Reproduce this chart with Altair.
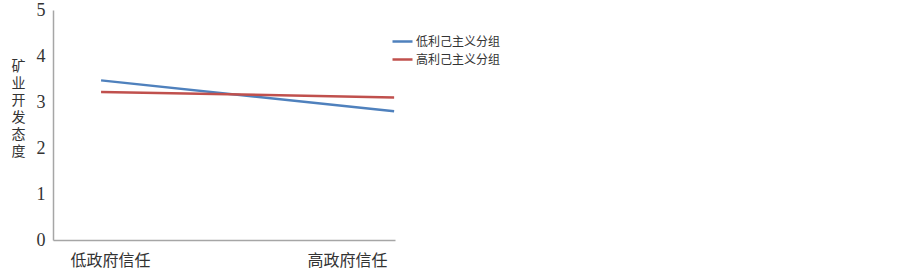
import altair as alt
import pandas as pd

# Mean attitude toward mining development by government trust level
trust_levels = ["低政府信任", "高政府信任"]
trust_pos = [1, 2]
groups = ["低利己主义分组", "高利己主义分组"]
low_egoism = [3.47, 2.80]
high_egoism = [3.22, 3.10]
y_ticks = [0, 1, 2, 3, 4, 5]

rows = []
for g, vals in zip(groups, [low_egoism, high_egoism]):
    for lvl, pos, v in zip(trust_levels, trust_pos, vals):
        rows.append({"group": g, "trust": lvl, "pos": pos, "value": v})
df = pd.DataFrame(rows)

label_expr = "datum.value == 1 ? '%s' : '%s'" % (trust_levels[0], trust_levels[1])

chart = (
    alt.Chart(df)
    .mark_line(strokeWidth=2.5)
    .encode(
        x=alt.X(
            "pos:Q",
            scale=alt.Scale(domain=[0.836, 2.003], nice=False, zero=False),
            axis=alt.Axis(
                values=trust_pos,
                labelExpr=label_expr,
                title=None,
                ticks=False,
                grid=False,
                domainColor="#a6a6a6",
                domainWidth=1.5,
                labelFont="Noto Sans CJK SC",
                labelFontSize=16,
                labelColor="#333333",
                labelPadding=12,
                labelFlush=False,
                labelOffset={"expr": "datum.value == 1 ? 9 : -47"},
            ),
        ),
        y=alt.Y(
            "value:Q",
            scale=alt.Scale(domain=[0, 5], nice=False),
            axis=alt.Axis(
                values=y_ticks,
                format="d",
                title=list("矿业开发态度"),
                titleAngle=0,
                titleFont="Noto Sans CJK SC",
                titleFontSize=14,
                titleFontWeight="normal",
                titleColor="#333333",
                titleLineHeight=17,
                titleX=-35,
                titleY=49,
                titleAlign="center",
                titleBaseline="top",
                ticks=False,
                grid=False,
                domainColor="#a6a6a6",
                domainWidth=1.5,
                labelFont="Liberation Serif",
                labelFontSize=18,
                labelColor="#333333",
                labelPadding=8,
            ),
        ),
        color=alt.Color(
            "group:N",
            sort=groups,
            scale=alt.Scale(domain=groups, range=["#4F81BD", "#C0504D"]),
            legend=alt.Legend(
                title=None,
                orient="none",
                legendX=338,
                legendY=20,
                symbolType="stroke",
                symbolStrokeWidth=2.5,
                symbolSize=400,
                labelFont="Noto Sans CJK SC",
                labelFontSize=12,
                labelColor="#333333",
                rowPadding=0,
                labelOffset=2,
            ),
        ),
    )
    .properties(
        width=342,
        height=230,
        background="white",
        padding={"left": 53, "top": 10, "right": 508, "bottom": 37},
        autosize=alt.AutoSizeParams(type="none"),
    )
    .configure_view(strokeWidth=0)
)

chart.save("out.html", embed_options={"renderer": "svg", "actions": False})
